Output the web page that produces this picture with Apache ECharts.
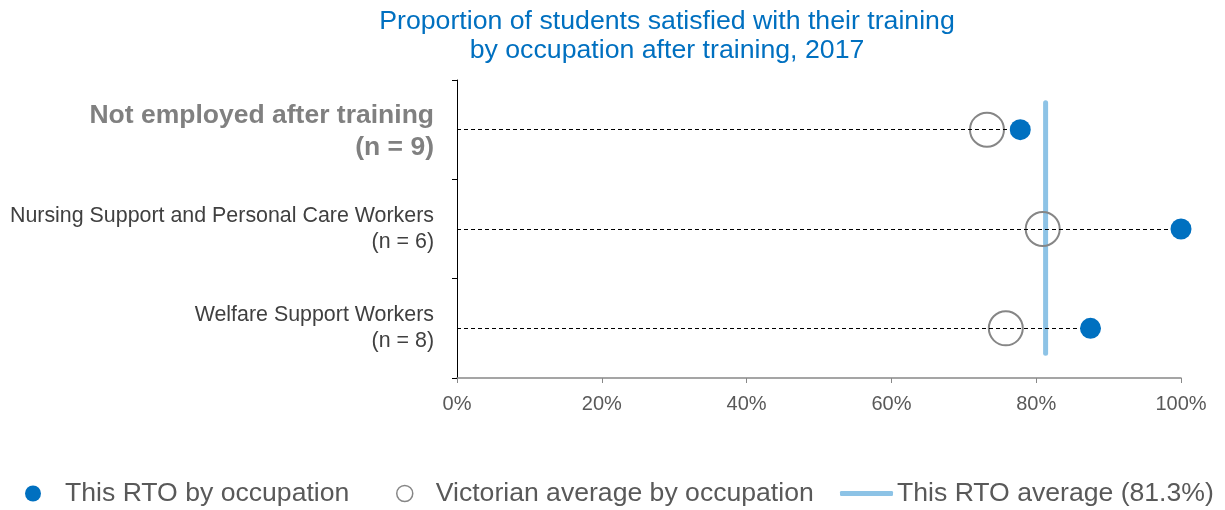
<!DOCTYPE html>
<html>
<head>
<meta charset="utf-8">
<script src="https://cdn.jsdelivr.net/npm/echarts@6/dist/echarts.min.js"></script>
<style>
  html, body { margin: 0; padding: 0; background: #fff; }
  #chart { width: 1225px; height: 510px; }
</style>
</head>
<body>
<div id="chart"></div>
<script>
// data
const categories = [
  "Not employed after training",
  "Nursing Support and Personal Care Workers",
  "Welfare Support Workers",
];
const sampleSizes = [9, 6, 8];
const rtoValues = [77.8, 100, 87.5];
const vicValues = [73.2, 80.9, 75.8];
const rtoAverage = 81.3;
const xTicks = [0, 20, 40, 60, 80, 100];

const myChart = echarts.init(document.getElementById("chart"));

const legendText = {
  color: "#595959",
  fontSize: 26.6,
  fontFamily: "Liberation Sans",
};

const option = {
  animation: false,
  title: {
    text: "Proportion of students satisfied with their training\nby occupation after training, 2017",
    left: 662,
    top: 2,
    textAlign: "center",
    textStyle: {
      color: "#0070C0",
      fontFamily: "Liberation Sans",
      fontSize: 26.7,
      fontWeight: "normal",
      lineHeight: 29,
    },
  },
  legend: [
    {
      left: 20,
      top: 475,
      itemWidth: 16,
      itemHeight: 16,
      data: [{ name: "This RTO by occupation", icon: "circle" }],
      textStyle: Object.assign({ padding: [0, 0, 0, 19] }, legendText),
    },
    {
      left: 391,
      top: 475,
      itemWidth: 16,
      itemHeight: 16,
      data: [{ name: "Victorian average by occupation", icon: "circle" }],
      itemStyle: { borderWidth: 1.5 },
      textStyle: Object.assign({ padding: [0, 0, 0, 18] }, legendText),
    },
    {
      left: 835,
      top: 475,
      itemWidth: 53,
      itemHeight: 5,
      data: [{ name: "This RTO average (" + rtoAverage + "%)", icon: "roundRect" }],
      textStyle: Object.assign({ padding: [0, 0, 0, -1] }, legendText),
    },
  ],
  grid: { left: 457, right: 44, top: 80, bottom: 132 },
  xAxis: {
    type: "value",
    min: xTicks[0],
    max: xTicks[xTicks.length - 1],
    interval: 20,
    axisLine: { show: true, onZero: false, lineStyle: { color: "#888888", width: 1.5 } },
    axisTick: { show: true, length: 5, lineStyle: { color: "#888888" } },
    splitLine: { show: false },
    axisLabel: {
      formatter: "{value}%",
      color: "#595959",
      fontSize: 20,
      fontFamily: "Liberation Sans",
      margin: 16,
    },
  },
  yAxis: [
    {
      type: "category",
      inverse: true,
      data: categories,
      axisLine: { show: true, lineStyle: { color: "#000" } },
      axisTick: { show: true, length: 5, lineStyle: { color: "#000" } },
      axisLabel: {
        margin: 23,
        align: "right",
        formatter: function (v, i) {
          const n = "(n = " + sampleSizes[i] + ")";
          if (i === 0) return "{b|" + v + "}\n{b|" + n + "}";
          return "{r|" + v + "}\n{r|" + n + "}";
        },
        rich: {
          b: { fontSize: 26.5, fontWeight: "bold", color: "#808080", lineHeight: 32, align: "right", fontFamily: "Liberation Sans", padding: [4, 0, 0, 0] },
          r: { fontSize: 21.4, color: "#404040", lineHeight: 26, align: "right", fontFamily: "Liberation Sans" },
        },
      },
    },
    {
      type: "value",
      inverse: true,
      min: 0,
      max: 3,
      show: false,
    },
  ],
  series: [
    {
      name: "This RTO average (" + rtoAverage + "%)",
      type: "line",
      yAxisIndex: 1,
      showSymbol: false,
      symbol: "none",
      silent: true,
      z: 3,
      lineStyle: { color: "#8DC3E6", width: 5, cap: "round" },
      itemStyle: { color: "#8DC3E6" },
      data: [[rtoAverage, 0.23], [rtoAverage, 2.75]],
    },
    {
      name: "Victorian average by occupation",
      type: "scatter",
      symbol: "circle",
      symbolSize: 34,
      z: 4,
      itemStyle: { color: "rgba(255,255,255,0)", borderColor: "#868686", borderWidth: 2, opacity: 1 },
      data: vicValues.map((v, i) => [v, categories[i]]),
    },
    {
      name: "This RTO by occupation",
      type: "scatter",
      symbol: "circle",
      symbolSize: 21,
      z: 5,
      itemStyle: { color: "#0070C0", opacity: 1 },
      data: rtoValues.map((v, i) => [v, categories[i]]),
      markLine: {
        silent: true,
        symbol: "none",
        label: { show: false },
        lineStyle: { color: "#000", width: 1, type: [4, 3] },
        data: rtoValues.map((v, i) => [
          { coord: [0, categories[i]] },
          { coord: [v, categories[i]] },
        ]),
      },
    },
  ],
};

myChart.setOption(option);
window.onresize = function () {
  myChart.resize();
};
</script>
</body>
</html>
